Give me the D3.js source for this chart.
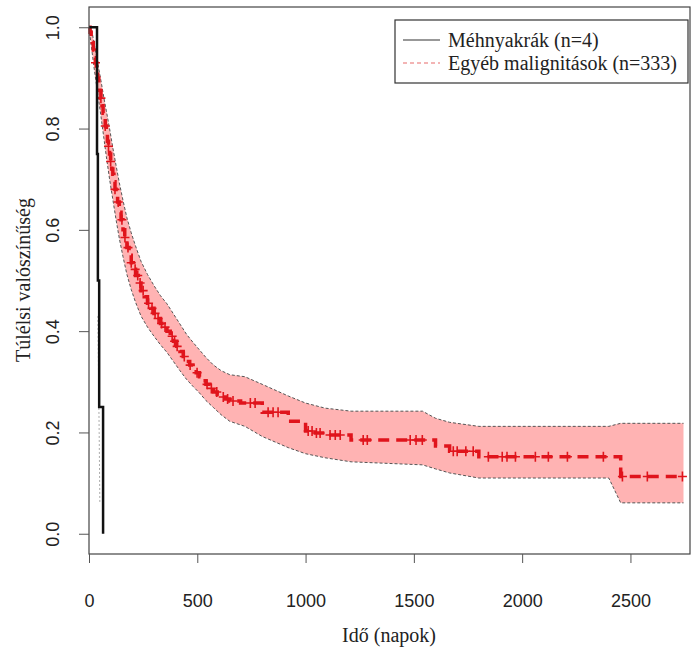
<!DOCTYPE html>
<html>
<head>
<meta charset="utf-8">
<script src="https://cdn.jsdelivr.net/npm/d3@7"></script>
<style>
  body { margin: 0; background: #fff; }
  svg { display: block; }
</style>
</head>
<body>
<svg id="chart" width="696" height="653"></svg>
<script>
// Kaplan–Meier survival curves: cervical cancer vs. other malignancies

const groupLabels = ["Méhnyakrák (n=4)", "Egyéb malignitások (n=333)"];
const xTitle = "Idő (napok)";
const yTitle = "Túlélsi valószínűség";

const xTicks = [0, 500, 1000, 1500, 2000, 2500];
const yTicks = [0, 0.2, 0.4, 0.6, 0.8, 1.0];

// Méhnyakrák: step times (days) and survival after each step
const cervixTimes = [0, 37, 41, 47, 65];
const cervixSurv  = [1.0, 0.75, 0.5, 0.25, 0.0];
// faint lower confidence trace of the small group
const cervixLowerTimes = [41, 47, 50];
const cervixLowerSurv  = [0.43, 0.2, 0.06];

// Egyéb malignitások: step times (days) and survival after each step
const otherTimes = [0, 5, 10, 15, 20, 25, 30, 35, 40, 45, 50, 55, 60, 65, 69, 75, 80, 85, 90, 95,
  100, 105, 110, 115, 120, 125, 132, 140, 148, 157, 165, 175, 185, 195, 205, 215, 228, 240, 255,
  270, 285, 300, 315, 330, 345, 360, 375, 390, 405, 420, 435, 450, 465, 480, 495, 510, 525, 540,
  558, 575, 592, 610, 630, 650, 700, 800, 920, 1000, 1045, 1090, 1210, 1600, 1665, 1800, 2455, 2745];
const otherSurv = [1.0, 0.99, 0.98, 0.97, 0.955, 0.94, 0.93, 0.915, 0.90, 0.885, 0.875, 0.86, 0.845,
  0.83, 0.82, 0.805, 0.79, 0.775, 0.765, 0.75, 0.735, 0.72, 0.71, 0.695, 0.68, 0.67, 0.655, 0.635,
  0.62, 0.60, 0.585, 0.565, 0.55, 0.535, 0.522, 0.51, 0.495, 0.48, 0.468, 0.455, 0.445, 0.435,
  0.425, 0.415, 0.408, 0.40, 0.39, 0.38, 0.37, 0.36, 0.35, 0.34, 0.333, 0.325, 0.318, 0.31, 0.302,
  0.295, 0.287, 0.28, 0.275, 0.27, 0.266, 0.262, 0.258, 0.24, 0.222, 0.203, 0.199, 0.195, 0.185,
  0.173, 0.163, 0.152, 0.113, 0.113];

// 95% confidence band of the larger group
const bandTimes = [0, 10, 25, 40, 55, 69, 80, 95, 110, 125, 140, 157, 175, 195, 215, 240, 270, 300,
  330, 360, 390, 420, 450, 480, 510, 540, 575, 610, 650, 720, 800, 920, 1000, 1090, 1210, 1540,
  1600, 1665, 1800, 2400, 2455, 2745];
const bandUpper = [1.0, 1.0, 0.965, 0.93, 0.895, 0.86, 0.835, 0.80, 0.762, 0.727, 0.693, 0.658, 0.624,
  0.594, 0.568, 0.538, 0.512, 0.49, 0.47, 0.454, 0.434, 0.414, 0.394, 0.378, 0.363, 0.348, 0.333,
  0.322, 0.314, 0.31, 0.295, 0.272, 0.258, 0.248, 0.242, 0.242, 0.228, 0.22, 0.212, 0.212, 0.218, 0.218];
const bandLower = [1.0, 0.965, 0.915, 0.87, 0.825, 0.78, 0.745, 0.70, 0.66, 0.62, 0.583, 0.547, 0.512,
  0.482, 0.457, 0.43, 0.408, 0.39, 0.373, 0.358, 0.34, 0.322, 0.305, 0.291, 0.278, 0.263, 0.249,
  0.235, 0.222, 0.212, 0.192, 0.17, 0.158, 0.15, 0.142, 0.136, 0.128, 0.12, 0.11, 0.11, 0.061, 0.061];

// censored observations (days)
const censorTimes = [30, 55, 75, 90, 100, 120, 135, 152, 166, 180, 195, 213, 225, 236, 250, 275, 291,
  305, 319, 335, 351, 384, 395, 407, 440, 467, 499, 545, 565, 590, 620, 640, 665, 745, 767, 827, 850,
  873, 1012, 1030, 1050, 1067, 1113, 1137, 1160, 1266, 1285, 1483, 1510, 1539, 1682, 1700, 1740,
  1774, 1844, 1908, 1930, 1969, 2061, 2121, 2209, 2375, 2463, 2578, 2740];

const svg = d3.select("#chart");
const box = { left: 89, right: 690, top: 7, bottom: 554 };

const x = d3.scaleLinear().domain([0, 2775]).range([box.left, box.right]);
const y = d3.scaleLinear().domain([-0.04, 1.04]).range([box.bottom, box.top]);

const red = "#e0141c";
const sansFont = "'Liberation Sans', Arial, sans-serif";
const serifFont = "'Liberation Serif', 'Times New Roman', serif";

// confidence band
const bandData = bandTimes.map((t, i) => ({ t, u: bandUpper[i], l: bandLower[i] }));
svg.append("path")
  .datum(bandData)
  .attr("d", d3.area().x(d => x(d.t)).y0(d => y(d.l)).y1(d => y(d.u)))
  .attr("fill", "#ffb3b3")
  .attr("stroke", "none");
["u", "l"].forEach(k => {
  svg.append("path")
    .datum(bandData)
    .attr("d", d3.line().x(d => x(d.t)).y(d => y(d[k])))
    .attr("fill", "none")
    .attr("stroke", "#555")
    .attr("stroke-width", 1)
    .attr("stroke-dasharray", "3,2");
});

// survival curve of other malignancies
const otherData = otherTimes.map((t, i) => ({ t, s: otherSurv[i] }));
svg.append("path")
  .datum(otherData)
  .attr("d", d3.line().curve(d3.curveStepAfter).x(d => x(d.t)).y(d => y(d.s)))
  .attr("fill", "none")
  .attr("stroke", red)
  .attr("stroke-width", 3.5)
  .attr("stroke-dasharray", "11,7");

// censor marks sit on the step value at their time
const survAt = t => otherSurv[Math.max(0, d3.bisectRight(otherTimes, t) - 1)];
svg.append("g")
  .selectAll("path")
  .data(censorTimes)
  .join("path")
  .attr("d", t => {
    const cx = x(t), cy = y(survAt(t));
    return `M${cx - 4.5},${cy}H${cx + 4.5}M${cx},${cy - 5}V${cy + 5}`;
  })
  .attr("stroke", red)
  .attr("stroke-width", 1.6)
  .attr("fill", "none");

// faint confidence trace of the cervical group
svg.append("path")
  .datum(cervixLowerTimes.map((t, i) => ({ t, s: cervixLowerSurv[i] })))
  .attr("d", d3.line().x(d => x(d.t)).y(d => y(d.s)))
  .attr("fill", "none")
  .attr("stroke", "#aaa")
  .attr("stroke-width", 1)
  .attr("stroke-dasharray", "2,2");

// survival curve of cervical cancer
svg.append("path")
  .datum(cervixTimes.map((t, i) => ({ t, s: cervixSurv[i] })))
  .attr("d", d3.line().curve(d3.curveStepAfter).x(d => x(d.t)).y(d => y(d.s)))
  .attr("fill", "none")
  .attr("stroke", "#111")
  .attr("stroke-width", 2.5);

// plot frame
svg.append("rect")
  .attr("x", box.left).attr("y", box.top)
  .attr("width", box.right - box.left).attr("height", box.bottom - box.top)
  .attr("fill", "none").attr("stroke", "#444").attr("stroke-width", 1.2);

// x axis
const xAxis = svg.append("g")
  .attr("transform", `translate(0,${box.bottom})`)
  .call(d3.axisBottom(x).tickValues(xTicks).tickSize(9).tickPadding(31).tickFormat(d3.format("d")));
xAxis.select(".domain").remove();
xAxis.selectAll("line").attr("stroke", "#555");
xAxis.selectAll("text").attr("font-family", sansFont).attr("font-size", 18).attr("fill", "#222");

// y axis with rotated labels
const yAxis = svg.append("g")
  .attr("transform", `translate(${box.left},0)`)
  .call(d3.axisLeft(y).tickValues(yTicks).tickSize(10).tickFormat(d3.format(".1f")));
yAxis.select(".domain").remove();
yAxis.selectAll("line").attr("stroke", "#555");
yAxis.selectAll("text")
  .attr("font-family", sansFont).attr("font-size", 18).attr("fill", "#222")
  .attr("x", null).attr("dy", null)
  .attr("text-anchor", "middle")
  .attr("dominant-baseline", "central")
  .attr("transform", "translate(-36,0) rotate(-90)");

// axis titles
svg.append("text")
  .attr("x", 389).attr("y", 635)
  .attr("text-anchor", "middle").attr("dominant-baseline", "central")
  .attr("font-family", serifFont).attr("font-size", 20).attr("fill", "#222")
  .text(xTitle);
svg.append("text")
  .attr("transform", "translate(23,280) rotate(-90)")
  .attr("text-anchor", "middle").attr("dominant-baseline", "central")
  .attr("font-family", serifFont).attr("font-size", 20).attr("fill", "#222")
  .text(yTitle);

// legend
const legend = svg.append("g");
legend.append("rect")
  .attr("x", 395).attr("y", 20).attr("width", 293).attr("height", 63)
  .attr("fill", "#fff").attr("stroke", "#333").attr("stroke-width", 1.2);
const legendStyles = [
  { stroke: "#333", dash: null },
  { stroke: "#e76b6b", dash: "4,3" }
];
groupLabels.forEach((label, i) => {
  const ly = 40 + i * 23;
  legend.append("line")
    .attr("x1", 403).attr("x2", 440).attr("y1", ly).attr("y2", ly)
    .attr("stroke", legendStyles[i].stroke).attr("stroke-width", 1.2)
    .attr("stroke-dasharray", legendStyles[i].dash);
  legend.append("text")
    .attr("x", 448).attr("y", ly)
    .attr("dominant-baseline", "central")
    .attr("font-family", serifFont).attr("font-size", 20).attr("fill", "#222")
    .text(label);
});
</script>
</body>
</html>
